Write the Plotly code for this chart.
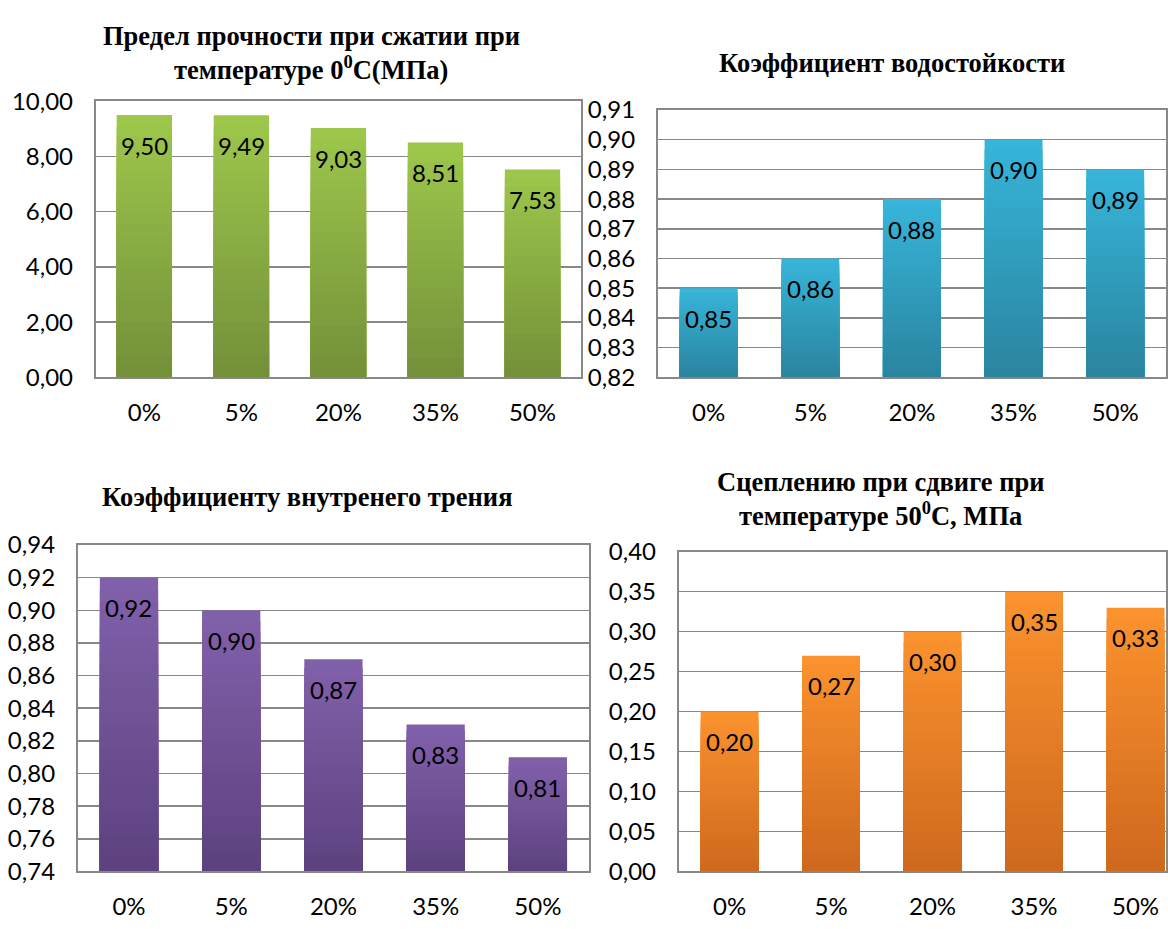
import plotly.graph_objects as go

W, H = 1168, 929

categories = ["0%", "5%", "20%", "35%", "50%"]

strength_0c = [9.50, 9.49, 9.03, 8.51, 7.53]
water_resistance = [0.85, 0.86, 0.88, 0.90, 0.89]
internal_friction = [0.92, 0.90, 0.87, 0.83, 0.81]
shear_cohesion_50c = [0.20, 0.27, 0.30, 0.35, 0.33]

fig = go.Figure()

def hx(c):
    c = c.lstrip("#")
    return tuple(int(c[i:i + 2], 16) for i in (0, 2, 4))

def mix(c1, c2, t):
    a, b = hx(c1), hx(c2)
    return "rgb(%d,%d,%d)" % tuple(round(a[i] + (b[i] - a[i]) * t) for i in range(3))

def fmt(v):
    return f"{v:.2f}".replace(".", ",")

N = 24
panels = [
    (strength_0c, 1, (96, 582), (88, 373), (0, 10), 2, (-0.5, 4.5), "#9dc64b", "#74913a"),
    (water_resistance, 2, (659, 1168), (97, 373), (0.82, 0.91), 0.01, (-0.5, 4.5), "#37b4d9", "#2a85a0"),
    (internal_friction, 3, (78, 590), (546, 883), (0.74, 0.94), 0.02, (-0.5, 4.5), "#8160aa", "#5d427f"),
    (shear_cohesion_50c, 4, (680, 1168), (553, 883), (0.0, 0.40), 0.05, (-0.5, 4.3), "#fa922e", "#cf691e"),
]

grid_col = "#888888"
for vals, i, (x0, x1), (y0, y1), yr, dt, xr, ctop, cbot in panels:
    xa = "x" if i == 1 else f"x{i}"
    ya = "y" if i == 1 else f"y{i}"
    ymin = yr[0]
    for k in range(N):
        frac = 1 - k / N
        heights = [ymin + (v - ymin) * frac for v in vals]
        fig.add_trace(go.Bar(
            x=categories, y=heights, xaxis=xa, yaxis=ya, width=0.57,
            marker=dict(color=mix(ctop, cbot, k / (N - 1)), line=dict(width=0)),
            showlegend=False, hoverinfo="skip",
        ))
    for c, v in zip(categories, vals):
        fig.add_annotation(
            x=c, y=v, xref=xa, yref=ya, text=fmt(v), showarrow=False,
            yanchor="middle", yshift=-30,
            font=dict(family="Lato", size=24, color="#000000"),
        )
    xkey = "xaxis" if i == 1 else f"xaxis{i}"
    ykey = "yaxis" if i == 1 else f"yaxis{i}"
    fig.update_layout(**{
        xkey: dict(
            domain=[x0 / W, x1 / W], anchor=ya, range=list(xr),
            showline=True, linecolor=grid_col, linewidth=2, mirror=True,
            showgrid=False, ticks="", ticklabelstandoff=13,
            tickfont=dict(family="Lato", size=24, color="#000000"),
            fixedrange=True,
        ),
        ykey: dict(
            domain=[1 - y1 / H, 1 - y0 / H], anchor=xa, range=list(yr),
            dtick=dt, tick0=ymin, tickformat=".2f",
            showline=True, linecolor=grid_col, linewidth=2, mirror=True,
            showgrid=True, gridcolor=grid_col, gridwidth=1.5,
            zeroline=False, ticks="", ticklabelstandoff=16,
            tickfont=dict(family="Lato", size=24, color="#000000"),
            fixedrange=True,
        ),
    })

titles = [
    ("Предел прочности при сжатии при", 312, 21),
    ("температуре 0<sup>0</sup>С(МПа)", 312, 54),
    ("Коэффициент водостойкости", 894, 48),
    ("Коэффициенту внутренего трения", 308, 496),
    ("Сцеплению при сдвиге при", 882, 481),
    ("температуре 50<sup>0</sup>С, МПа", 882, 514),
]
for txt, cx, cy in titles:
    fig.add_annotation(
        x=cx / W, y=1 - cy / H, xref="paper", yref="paper",
        text=f"<b>{txt}</b>", showarrow=False, xanchor="center", yanchor="middle",
        font=dict(family="Liberation Serif", size=26.5, color="#000000"),
    )

fig.update_layout(
    width=W, height=H, margin=dict(l=0, r=0, t=0, b=0),
    barmode="overlay", bargap=0.43,
    plot_bgcolor="#ffffff", paper_bgcolor="#ffffff",
    separators=", ", showlegend=False,
)

fig.write_html(
    "out.html",
    config={"displayModeBar": False, "staticPlot": True},
    post_script=(
        "var gd=document.getElementById('{plot_id}');"
        "gd.style.position='fixed';gd.style.top='0px';gd.style.left='0px';"
        "document.body.style.margin='0';"
        "document.documentElement.style.overflow='hidden';"
        "document.body.style.overflow='hidden';"
    ),
)
